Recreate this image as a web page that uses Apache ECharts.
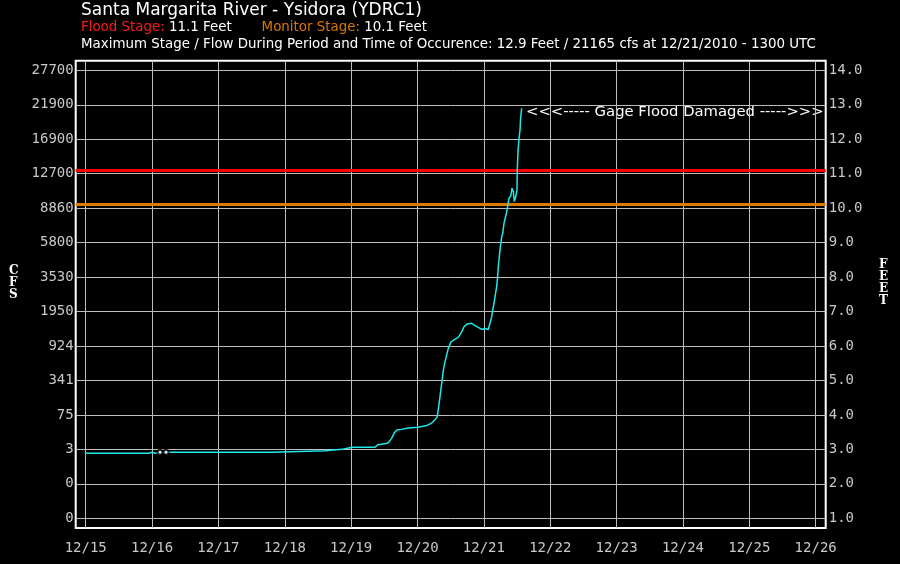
<!DOCTYPE html>
<html>
<head>
<meta charset="utf-8">
<script src="https://cdn.jsdelivr.net/npm/echarts@6/dist/echarts.min.js"></script>
<style>
html,body{margin:0;padding:0;background:#000;}
#c{width:900px;height:564px;}
</style>
</head>
<body>
<div id="c"></div>
<script>
// Days since 12/15 00:00 UTC
const days = [0, 0.868, 0.88, 0.95, 1.0, 1.05, 1.10, 1.546, 1.55, 1.56, 2.80, 2.81, 3.35, 3.61, 3.86, 3.96, 4.03, 4.36, 4.40, 4.51, 4.56, 4.61, 4.65, 4.69, 4.76, 4.86, 5.01, 5.14, 5.21, 5.26, 5.298, 5.319, 5.339, 5.365, 5.389, 5.414, 5.44, 5.464, 5.505, 5.565, 5.615, 5.666, 5.701, 5.751, 5.817, 5.866, 5.916, 5.967, 6.017, 6.067, 6.092, 6.118, 6.133, 6.153, 6.168, 6.193, 6.209, 6.218, 6.243, 6.269, 6.284, 6.303, 6.333, 6.353, 6.379, 6.405, 6.424, 6.444, 6.459, 6.48, 6.499, 6.504, 6.514, 6.53, 6.545, 6.555, 6.57];
const stageFeet = [2.886, 2.886, 2.915, 2.886, 2.915, 2.886, 2.915, 2.915, 2.944, 2.915, 2.915, 2.944, 2.944, 2.96, 3.00, 3.04, 3.06, 3.06, 3.135, 3.16, 3.19, 3.32, 3.48, 3.56, 3.58, 3.62, 3.64, 3.69, 3.76, 3.85, 3.95, 4.24, 4.53, 4.92, 5.30, 5.54, 5.74, 5.93, 6.12, 6.20, 6.25, 6.41, 6.56, 6.64, 6.66, 6.59, 6.54, 6.48, 6.51, 6.48, 6.66, 6.85, 7.04, 7.24, 7.43, 7.72, 8.06, 8.30, 8.79, 9.17, 9.27, 9.56, 9.80, 9.99, 10.29, 10.35, 10.58, 10.48, 10.19, 10.33, 10.53, 11.11, 11.64, 12.03, 12.27, 12.65, 12.9];
const markerDays = [1.12, 1.21];
const markerFeet = [2.915, 2.915];
const dayTicks = [0,1,2,3,4,5,6,7,8,9,10,11];
const dayLabels = ['12/15','12/16','12/17','12/18','12/19','12/20','12/21','12/22','12/23','12/24','12/25','12/26'];
const feetTicks = [1,2,3,4,5,6,7,8,9,10,11,12,13,14];
const cfsLabels = ['0','0','3','75','341','924','1950','3530','5800','8860','12700','16900','21900','27700'];
const floodStage = 11.1;
const monitorStage = 10.1;

const lineData = days.map((d,i)=>[d, stageFeet[i]]);
const markerData = markerDays.map((d,i)=>[d, markerFeet[i]]);

const chart = echarts.init(document.getElementById('c'), null, {renderer:'canvas'});
const labFont = {color:'#c8c8c8', fontFamily:'DejaVu Sans Mono', fontSize:14};
const splitCol = '#bdbdbd';
const yCommon = {
  type:'value', min:0.718, max:14.279,
  axisLine:{show:false},
  axisTick:{show:true, length:0, customValues: feetTicks},
  splitLine:{show:true, lineStyle:{color:splitCol, width:1}},
};
chart.setOption({
  backgroundColor:'#000',
  animation:false,
  grid:{left:75.7, right:74.3, top:60.7, bottom:36, show:true, borderColor:'#ffffff', borderWidth:2, backgroundColor:'transparent', outerBoundsMode:'none'},
  xAxis:{
    type:'value', min:-0.1507, max:11.151,
    axisLine:{show:false},
    axisTick:{show:true, length:0, customValues: dayTicks},
    splitLine:{show:true, lineStyle:{color:splitCol, width:1}},
    axisLabel:Object.assign({margin:13, customValues: dayTicks, formatter:(v)=>dayLabels[dayTicks.indexOf(Math.round(v))]}, labFont)
  },
  yAxis:[
    Object.assign({}, yCommon, {position:'right',
      axisLabel:Object.assign({margin:3, customValues: feetTicks, formatter:(v)=>Number(v).toFixed(1)}, labFont)}),
    Object.assign({}, yCommon, {position:'left', splitLine:{show:false},
      axisLabel:Object.assign({margin:2, customValues: feetTicks, formatter:(v)=>cfsLabels[feetTicks.indexOf(Math.round(v))]}, labFont)})
  ],
  series:[
    {
      type:'line', data:lineData, yAxisIndex:0, showSymbol:false, symbol:'none',
      lineStyle:{color:'#1ee8e8', width:1.5}, z:5,
      markLine:{silent:true, symbol:'none', label:{show:false},
        data:[
          {yAxis:floodStage, lineStyle:{color:'#ff0000', width:3, type:'solid'}},
          {yAxis:monitorStage, lineStyle:{color:'#dd7a00', width:3, type:'solid'}}
        ]}
    },
    {
      type:'scatter', data:markerData, yAxisIndex:0, symbol:'emptyCircle', symbolSize:5,
      itemStyle:{color:'#000', borderColor:'#1ee8e8', borderWidth:1}, z:6
    }
  ],
  graphic:[
    {type:'text', left:81, top:2, style:{text:'Santa Margarita River - Ysidora (YDRC1)', fill:'#fff', font:'17px "DejaVu Sans"'}},
    {type:'text', left:81, top:21, style:{
      text:'{r|Flood Stage:} {w|11.1 Feet}       {o|Monitor Stage:} {w|10.1 Feet}',
      rich:{
        r:{fill:'#ff1a1a', font:'13.4px "DejaVu Sans"'},
        o:{fill:'#d97700', font:'13.4px "DejaVu Sans"'},
        w:{fill:'#fff', font:'13.4px "DejaVu Sans"'}
      }, font:'13.4px "DejaVu Sans"'}},
    {type:'text', left:81, top:38, style:{text:'Maximum Stage / Flow During Period and Time of Occurence: 12.9 Feet / 21165 cfs at 12/21/2010 - 1300 UTC', fill:'#fff', font:'13.4px "DejaVu Sans"'}},
    {type:'text', left:526, top:105, style:{text:'<<<----- Gage Flood Damaged ----->>>', fill:'#fff', font:'14.8px "DejaVu Sans"'}},
    {type:'text', left:9, top:265, style:{text:'C\nF\nS', fill:'#fff', font:'bold 12px "DejaVu Serif"', lineHeight:12, align:'center'}},
    {type:'text', left:879, top:259, style:{text:'F\nE\nE\nT', fill:'#fff', font:'bold 12px "DejaVu Serif"', lineHeight:12, align:'center'}}
  ]
});
</script>
</body>
</html>
